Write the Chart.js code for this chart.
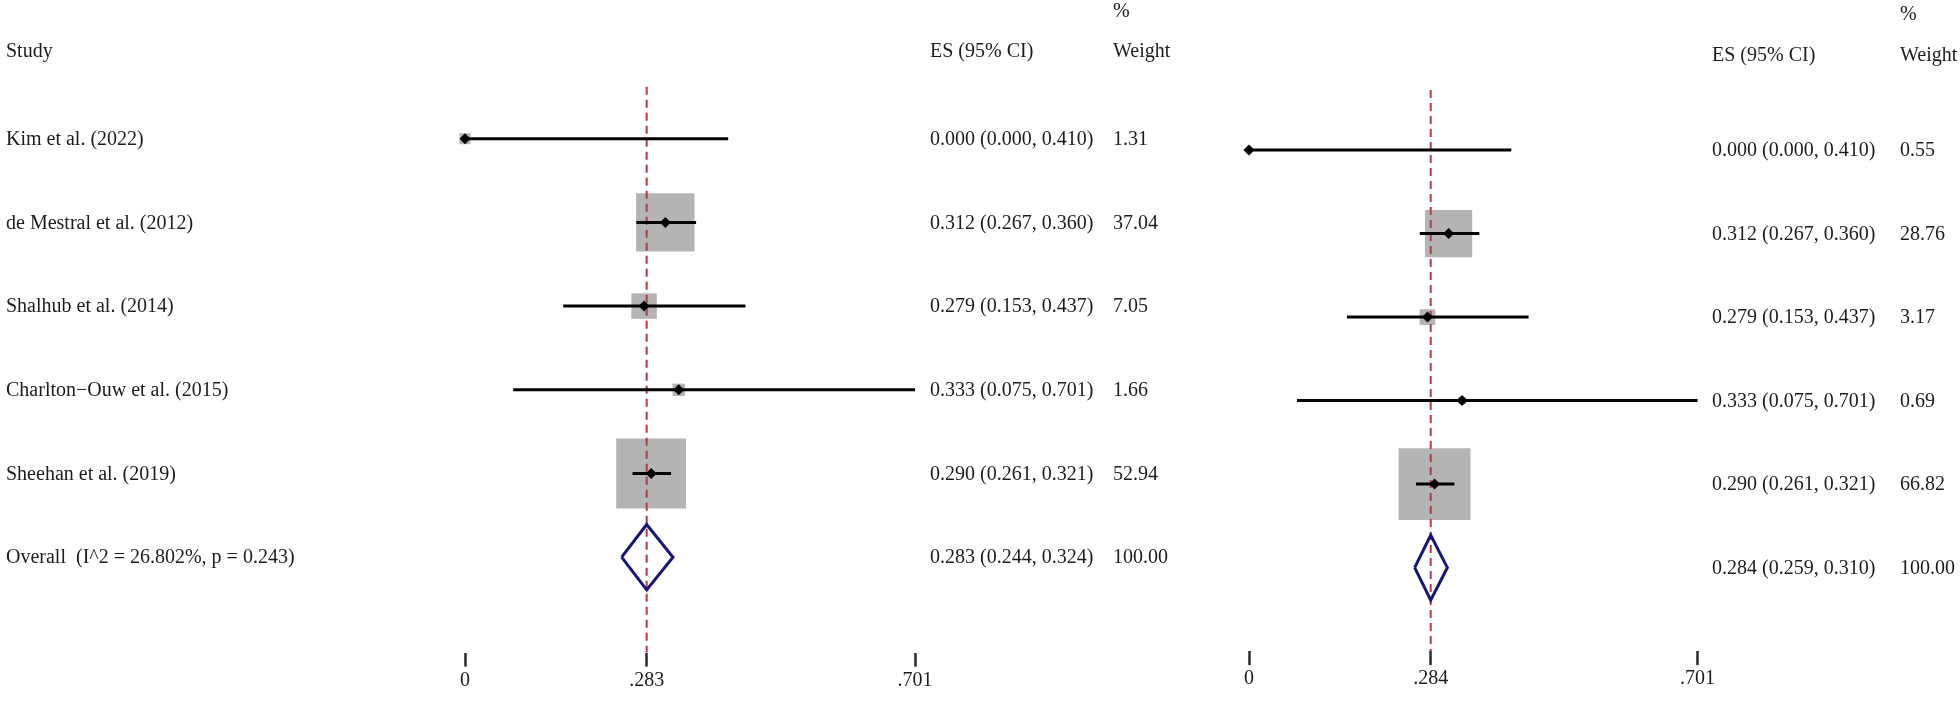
<!DOCTYPE html>
<html lang="en">
  <head>
    <meta charset="UTF-8" />
    <title>Forest plots</title>
    <script src="https://cdn.jsdelivr.net/npm/chart.js"></script>
    <style>
      body { margin: 0; background: #fff; overflow: hidden; }
      #wrap { position: relative; width: 1960px; height: 702px; }
      #wrap canvas { position: absolute; left: 0; top: 0; }
    </style>
  </head>
  <body>
    <div id="wrap">
      <canvas id="leftPlot" width="1960" height="702"></canvas>
      <canvas id="rightPlot" width="1960" height="702"></canvas>
    </div>

    <script>
      // study data (same studies in both panels)
      const studies = [
        "Kim et al. (2022)",
        "de Mestral et al. (2012)",
        "Shalhub et al. (2014)",
        "Charlton\u2212Ouw et al. (2015)",
        "Sheehan et al. (2019)",
      ];
      const es = [0.0, 0.312, 0.279, 0.333, 0.29];
      const ciLow = [0.0, 0.267, 0.153, 0.075, 0.261];
      const ciHigh = [0.41, 0.36, 0.437, 0.701, 0.321];

      // % weights per panel
      const weightsLeft = [1.31, 37.04, 7.05, 1.66, 52.94];
      const weightsRight = [0.55, 28.76, 3.17, 0.69, 66.82];

      // pooled estimate: es, low, high
      const overallLeft = [0.283, 0.244, 0.324];
      const overallRight = [0.284, 0.259, 0.31];
      const overallLabel = "Overall  (I^2 = 26.802%, p = 0.243)";

      // x axis ticks
      const tickValsLeft = [0, 0.283, 0.701];
      const tickLabelsLeft = ["0", ".283", ".701"];
      const tickValsRight = [0, 0.284, 0.701];
      const tickLabelsRight = ["0", ".284", ".701"];

      const FONT = { family: "'Liberation Serif', 'Times New Roman', serif", size: 20 };
      const TEXT = "#1c1c1c";

      function fmt(v) {
        return v.toFixed(3);
      }

      // draws the text columns next to the plot
      const forestText = {
        id: "forestText",
        afterDraw(chart, args, o) {
          const ctx = chart.ctx;
          const y = chart.scales.y;
          ctx.save();
          ctx.font = FONT.size + "px " + FONT.family;
          ctx.fillStyle = TEXT;
          ctx.textBaseline = "middle";
          ctx.textAlign = "left";

          // headers
          if (o.studyX != null) ctx.fillText("Study", o.studyX, o.headY);
          ctx.fillText("ES (95% CI)", o.esX, o.headY);
          ctx.fillText("%", o.wX, o.pctY);
          ctx.fillText("Weight", o.wX, o.headY);

          studies.forEach((name, i) => {
            const py = y.getPixelForValue(i) + 1;
            if (o.studyX != null) ctx.fillText(name, o.studyX, py);
            ctx.fillText(
              fmt(es[i]) + " (" + fmt(ciLow[i]) + ", " + fmt(ciHigh[i]) + ")",
              o.esX,
              py
            );
            ctx.fillText(o.weights[i].toFixed(2), o.wX, py);
          });

          const oy = y.getPixelForValue(studies.length) + 1;
          const ov = o.overall;
          if (o.studyX != null) ctx.fillText(overallLabel, o.studyX, oy);
          ctx.fillText(fmt(ov[0]) + " (" + fmt(ov[1]) + ", " + fmt(ov[2]) + ")", o.esX, oy);
          ctx.fillText((100).toFixed(2), o.wX, oy);
          ctx.restore();
        },
      };

      function makePanel(id, p) {
        const n = studies.length;
        const ov = p.overall;
        const datasets = [];

        // pooled diamond
        datasets.push({
          data: [
            { x: ov[1], y: n },
            { x: ov[0], y: n - 0.39 },
            { x: ov[2], y: n },
            { x: ov[0], y: n + 0.39 },
            { x: ov[1], y: n },
          ],
          showLine: true,
          borderColor: "#15157a",
          borderWidth: 3,
          pointRadius: 0,
          order: 0,
        });

        // point estimates
        datasets.push({
          data: es.map((v, i) => ({ x: v, y: i })),
          pointStyle: "rectRot",
          pointRadius: 5.5,
          backgroundColor: "#000",
          borderWidth: 0,
          order: 1,
        });

        // confidence intervals
        studies.forEach((_, i) => {
          datasets.push({
            data: [
              { x: ciLow[i], y: i },
              { x: ciHigh[i], y: i },
            ],
            showLine: true,
            borderColor: "#000",
            borderWidth: 3,
            pointRadius: 0,
            order: 2,
          });
        });

        // reference line at the pooled estimate
        datasets.push({
          data: [
            { x: ov[0], y: p.refTop },
            { x: ov[0], y: p.yMax },
          ],
          showLine: true,
          borderColor: "#b23a47",
          borderWidth: 2,
          borderDash: [8, 5],
          pointRadius: 0,
          order: 3,
        });

        // weight boxes
        datasets.push({
          data: es.map((v, i) => ({ x: v, y: i })),
          pointStyle: "rect",
          pointRadius: p.weights.map((w) => (p.boxScale * Math.sqrt(w)) / Math.SQRT2),
          backgroundColor: "#b4b4b4",
          borderWidth: 0,
          order: 4,
        });

        datasets.forEach((d) => (d.clip = false));

        return new Chart(document.getElementById(id), {
          type: "scatter",
          data: { datasets },
          options: {
            responsive: false,
            animation: false,
            events: [],
            layout: { padding: p.padding },
            scales: {
              x: {
                type: "linear",
                position: "bottom",
                min: 0,
                max: 0.701,
                afterBuildTicks: (s) => {
                  s.ticks = p.tickVals.map((v) => ({ value: v }));
                },
                afterFit: (s) => {
                  s.height = 38;
                },
                grid: {
                  drawOnChartArea: false,
                  drawTicks: true,
                  tickLength: 14,
                  tickWidth: 2.5,
                  tickColor: "#2a2a2a",
                },
                border: { display: false },
                ticks: {
                  autoSkip: false,
                  maxRotation: 0,
                  padding: 4,
                  color: TEXT,
                  font: { family: FONT.family, size: FONT.size, lineHeight: 1 },
                  callback: (v, i) => p.tickLabels[i],
                },
              },
              y: {
                type: "linear",
                display: false,
                reverse: true,
                min: -1,
                max: p.yMax,
              },
            },
            plugins: {
              legend: { display: false },
              tooltip: { enabled: false },
              forestText: p.text,
            },
          },
          plugins: [forestText],
        });
      }

      makePanel("leftPlot", {
        overall: overallLeft,
        weights: weightsLeft,
        boxScale: 9.6,
        tickVals: tickValsLeft,
        tickLabels: tickLabelsLeft,
        yMax: 6.14,
        refTop: -0.62,
        padding: { left: 465, right: 1960 - 915, top: 55, bottom: 1 },
        text: { studyX: 6, esX: 930, wX: 1113, headY: 52, pctY: 12, weights: weightsLeft, overall: overallLeft },
      });

      makePanel("rightPlot", {
        overall: overallRight,
        weights: weightsRight,
        boxScale: 8.8,
        tickVals: tickValsRight,
        tickLabels: tickLabelsRight,
        yMax: 6.0,
        refTop: -0.72,
        padding: { left: 1249, right: 1960 - 1697.5, top: 66.6, bottom: 1 },
        text: { studyX: null, esX: 1712, wX: 1900, headY: 56, pctY: 15, weights: weightsRight, overall: overallRight },
      });
    </script>
  </body>
</html>
